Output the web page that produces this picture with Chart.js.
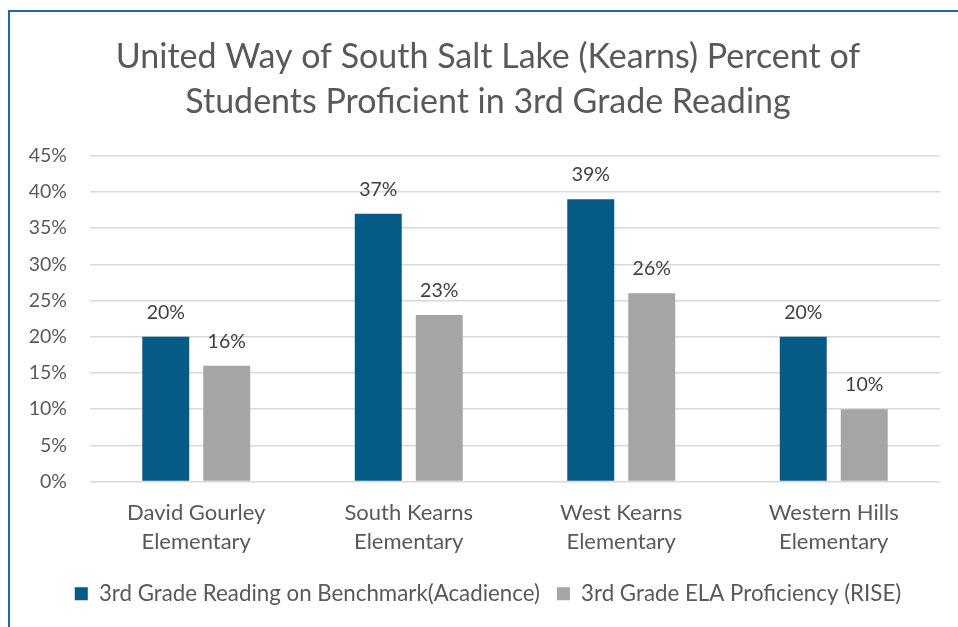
<!DOCTYPE html>
<html><head><meta charset="utf-8">
<script src="https://cdn.jsdelivr.net/npm/chart.js@4/dist/chart.umd.min.js"></script>
<style>
html,body{margin:0;padding:0;background:#fff;}
#wrap{position:relative;width:958px;height:627px;overflow:hidden;}
#frame{position:absolute;left:8px;top:10px;right:-10px;bottom:-10px;border-left:2px solid #1f6aa0;border-top:2px solid #1f6aa0;}
canvas{position:absolute;left:0;top:0;}
</style></head>
<body>
<div id="wrap"><div id="frame"></div><canvas id="c" width="958" height="627"></canvas></div>
<script>
const categories = [["David Gourley","Elementary"],["South Kearns","Elementary"],["West Kearns","Elementary"],["Western Hills","Elementary"]];
const acadience = [20, 37, 39, 20];
const rise = [16, 23, 26, 10];
const seriesNames = ["3rd Grade Reading on Benchmark(Acadience)", "3rd Grade ELA Proficiency (RISE)"];
const titleLines = ["United Way of South Salt Lake (Kearns) Percent of", "Students Proficient in 3rd Grade Reading"];

const FONT = "Lato, 'Open Sans', sans-serif";
const labelPlugin = {
  id: 'vlabels',
  afterDatasetsDraw(chart) {
    const ctx = chart.ctx;
    ctx.save();
    ctx.font = "19.5px " + FONT;
    ctx.fillStyle = "#404040";
    ctx.textAlign = "center";
    ctx.textBaseline = "alphabetic";
    chart.data.datasets.forEach((ds, i) => {
      chart.getDatasetMeta(i).data.forEach((bar, j) => {
        ctx.fillText(ds.data[j] + "%", bar.x, bar.y - 18);
      });
    });
    ctx.restore();
  }
};

new Chart(document.getElementById('c'), {
  type: 'bar',
  data: {
    labels: categories,
    datasets: [
      {label: seriesNames[0], data: acadience, backgroundColor: '#065a86', yAxisID: 'y'},
      {label: seriesNames[1], data: rise, backgroundColor: '#a5a5a5', yAxisID: 'y'}
    ]
  },
  options: {
    responsive: false,
    animation: false,
    devicePixelRatio: 1,
    categoryPercentage: 0.574,
    barPercentage: 0.77,
    layout: {padding: {left: 25, right: 7, top: 35, bottom: 12}},
    plugins: {
      title: {display: true, text: titleLines, color: '#595959',
        font: {family: FONT, size: 34, weight: 'normal', lineHeight: 1.32},
        padding: {top: 0, bottom: 31}},
      legend: {position: 'bottom',
        labels: {color: '#595959', font: {family: FONT, size: 22.3}, boxWidth: 13, boxHeight: 13, padding: 17}},
      tooltip: {enabled: false}
    },
    scales: {
      x: {
        grid: {display: false},
        border: {display: false},
        ticks: {color: '#595959', font: {family: FONT, size: 22, lineHeight: 1.32}, maxRotation: 0, padding: 9}
      },
      y: {
        min: 0, max: 45,
        afterFit: s => { s.width = 65; },
        grid: {color: '#d9d9d9', lineWidth: 1.5, drawTicks: false},
        border: {display: false},
        ticks: {stepSize: 5, color: '#595959', font: {family: FONT, size: 19.5}, padding: 23,
          callback: v => v + "%"}
      },
      yRight: {
        position: 'right',
        afterFit: s => { s.width = 11; },
        grid: {display: false},
        border: {display: false},
        ticks: {display: false}
      }
    }
  },
  plugins: [labelPlugin]
});
</script>
</body></html>
